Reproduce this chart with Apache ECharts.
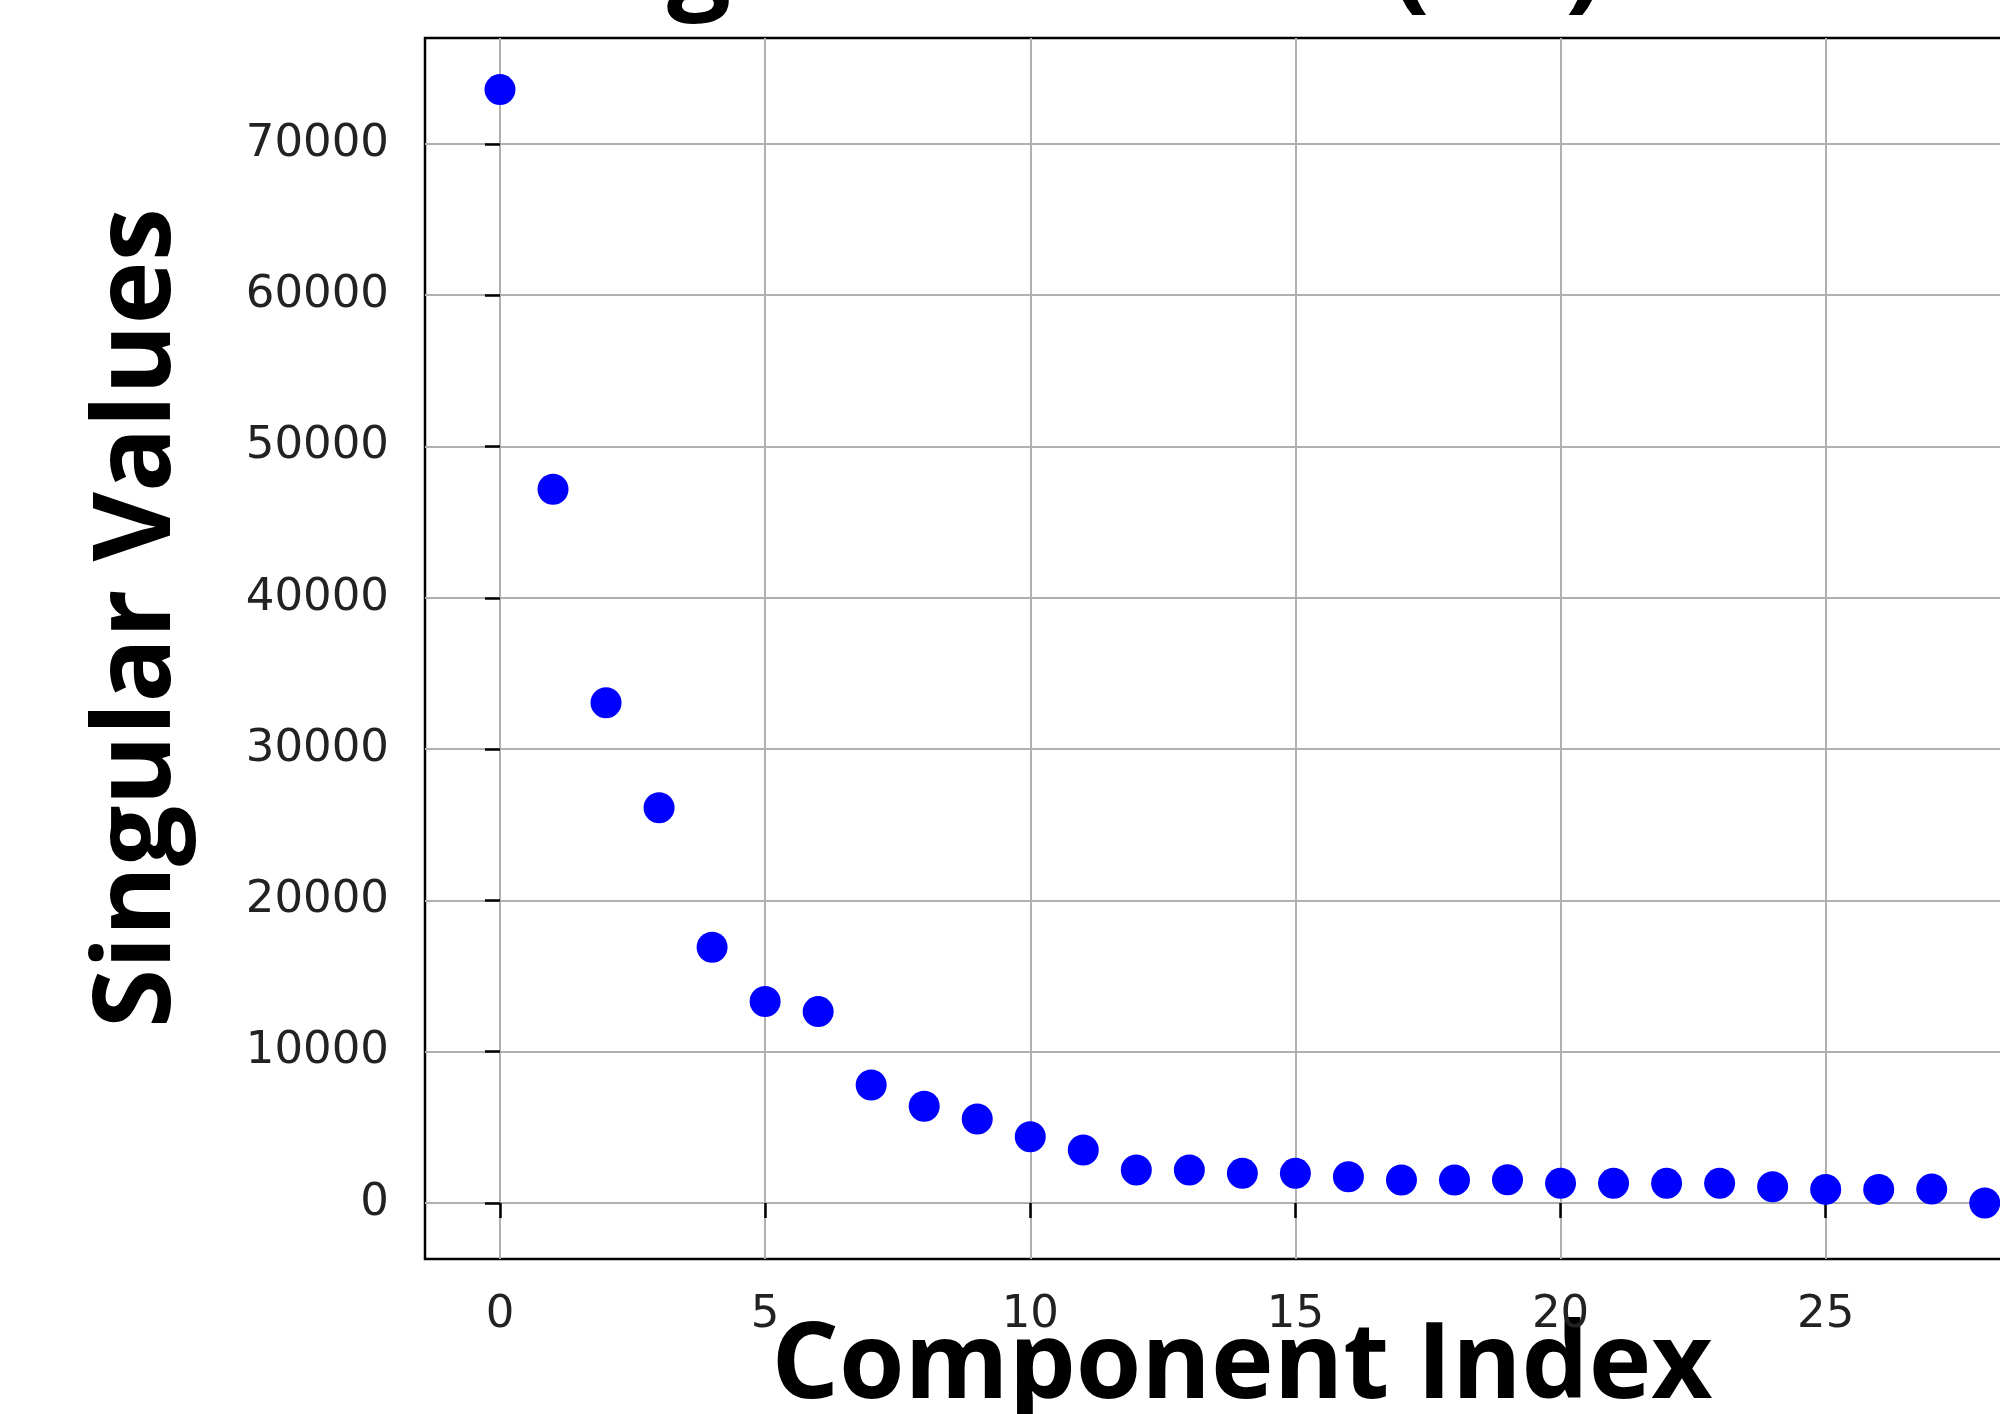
<!DOCTYPE html>
<html>
<head>
<meta charset="utf-8">
<style>
  html, body { margin: 0; padding: 0; background: #fff; }
  #main { width: 2000px; height: 1414px; }
</style>
<script src="https://cdn.jsdelivr.net/npm/echarts@6/dist/echarts.min.js"></script>
</head>
<body>
<div id="main"></div>
<script>
// component index 0..28 and the singular value read for each
const componentIndex = [0, 1, 2, 3, 4, 5, 6, 7, 8, 9, 10, 11, 12, 13, 14, 15, 16, 17, 18, 19, 20, 21, 22, 23, 24, 25, 26, 27, 28];
const singularValues = [73590, 47180, 33060, 26120, 16900, 13320, 12650, 7800, 6400, 5550, 4380, 3500, 2180, 2180, 1960, 1960, 1740, 1520, 1520, 1540, 1300, 1300, 1300, 1300, 1080, 900, 900, 920, 0];
const xTicks = [0, 5, 10, 15, 20, 25];
const yTicks = [0, 10000, 20000, 30000, 40000, 50000, 60000, 70000];

const chart = echarts.init(document.getElementById('main'));

const tickLabel = {
  fontFamily: 'DejaVu Sans',
  fontSize: 45,
  color: '#222',
  formatter: v => String(v)
};

const option = {
  backgroundColor: '#fff',
  animation: false,
  // title sits mostly above the crop, only descenders show
  title: {
    text: 'Singular Values (SV)',
    left: 491,
    top: -97,
    textStyle: { fontFamily: 'Open Sans', fontWeight: 'bold', fontSize: 113, color: '#000' }
  },
  grid: {
    left: 425,
    top: 38,
    width: 1634,
    height: 1221,
    outerBoundsMode: 'none',
    containLabel: false,
    show: true,
    borderColor: '#000',
    borderWidth: 2.5,
    backgroundColor: 'transparent'
  },
  xAxis: {
    type: 'value',
    min: -1.414,
    max: 29.4,
    name: 'Component Index',
    nameLocation: 'middle',
    nameGap: 56,
    nameMoveOverlap: false,
    nameTextStyle: { fontFamily: 'Open Sans', fontWeight: 'bold', fontSize: 106, color: '#000' },
    axisLine: { show: false },
    axisTick: { show: true, customValues: xTicks, length: 15, lineStyle: { color: '#000', width: 2.5 } },
    axisLabel: Object.assign({ customValues: xTicks, margin: 34 }, tickLabel),
    splitLine: { show: true, lineStyle: { color: '#b0b0b0', width: 2 } }
  },
  yAxis: {
    type: 'value',
    min: -3700,
    max: 77000,
    axisLine: { show: false },
    axisTick: { show: true, customValues: yTicks, length: 15, lineStyle: { color: '#000', width: 2.5 } },
    axisLabel: Object.assign({ customValues: yTicks, margin: 36 }, tickLabel),
    splitLine: { show: true, lineStyle: { color: '#b0b0b0', width: 2 } }
  },
  graphic: [{
    type: 'text',
    x: 140,
    y: 618,
    rotation: Math.PI / 2,
    style: {
      text: 'Singular Values',
      fontFamily: 'Open Sans',
      fontWeight: 'bold',
      fontSize: 107,
      fill: '#000',
      textAlign: 'center',
      textVerticalAlign: 'middle'
    }
  }],
  series: [{
    type: 'scatter',
    symbol: 'circle',
    symbolSize: 31,
    itemStyle: { color: '#0000ff', opacity: 1 },
    data: componentIndex.map((c, i) => [c, singularValues[i]])
  }]
};

chart.setOption(option);
</script>
</body>
</html>
